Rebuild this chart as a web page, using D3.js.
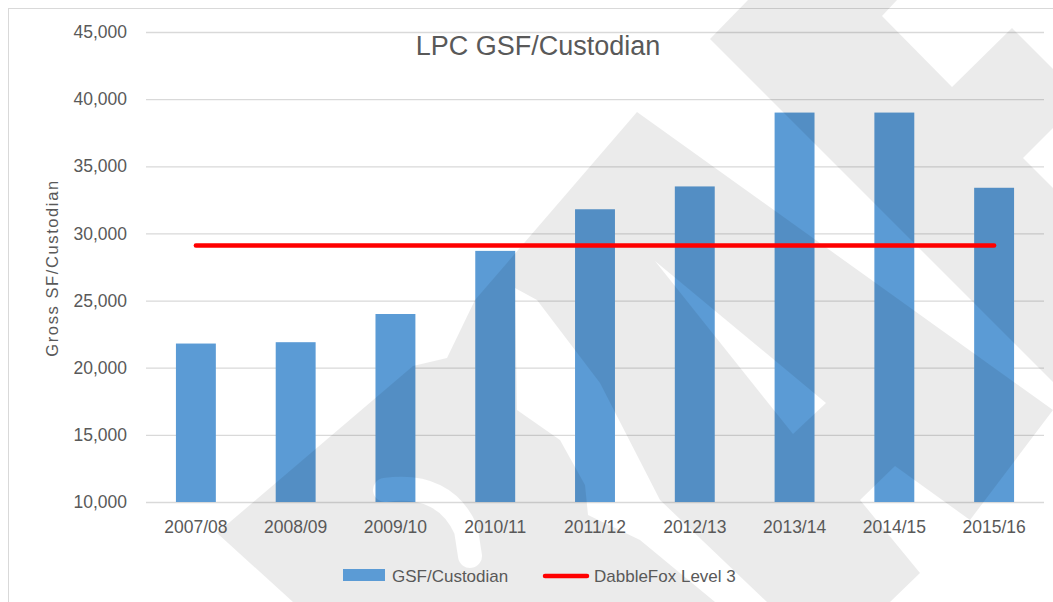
<!DOCTYPE html>
<html>
<head>
<meta charset="utf-8">
<script src="https://cdn.jsdelivr.net/npm/d3@7"></script>
<style>
  html, body { margin: 0; padding: 0; background: #fff; }
  svg { display: block; font-family: "Liberation Sans", Arial, sans-serif; }
</style>
</head>
<body>
<svg id="chart" width="1053" height="602"></svg>
<script>
// ---- data ----
const categories = ["2007/08","2008/09","2009/10","2010/11","2011/12","2012/13","2013/14","2014/15","2015/16"];
const gsfPerCustodian = [21800, 21900, 24000, 28700, 31800, 33500, 39000, 39000, 33400];
const dabbleFoxLevel3 = [29100, 29100, 29100, 29100, 29100, 29100, 29100, 29100, 29100];
const yTicks = [10000, 15000, 20000, 25000, 30000, 35000, 40000, 45000];
const titleText = "LPC GSF/Custodian";
const yAxisTitle = "Gross SF/Custodian";
const seriesNames = ["GSF/Custodian", "DabbleFox Level 3"];

// ---- decorative watermark (background logo) ----
const wmShapes = [
  [[748,0],[897,0],[882,16],[952,87],[1012,28],[1053,69],[1053,128],[1023,158],[1053,188],[1053,382],[710,39]],
  [[637,112],[1053,410],[970,520],[895,466],[860,500],[920,573],[890,602],[293,602],[217,533],[413,366],[447,358],[475,300]]
];
const wmHoles = [
  [[655,261],[826,403],[793,434]],
  [[515,288],[537,300],[600,383],[660,500],[767,602],[715,602],[640,540],[588,515],[585,485],[560,440],[517,410]]
];
const wmCurve = "M385,490 Q445,482 466,530 L470,556";

const svg = d3.select("#chart");
const W = 1053, H = 602;
const plot = {left: 146, right: 1044, top: 32, bottom: 502};

const x = d3.scaleBand().domain(categories).range([plot.left, plot.right]).paddingInner(0.6).paddingOuter(0.3);
const y = d3.scaleLinear().domain([10000, 45000]).range([plot.bottom, plot.top]);

const textColor = "#595959";

// chart border
svg.append("rect").attr("x", 8.5).attr("y", 8.5).attr("width", 1200).attr("height", 800)
  .attr("fill", "#fff").attr("stroke", "#d9d9d9");

// gridlines
const grid = svg.append("g").attr("transform", `translate(${plot.left},0)`)
  .call(d3.axisLeft(y).tickValues(yTicks).tickSize(-(plot.right - plot.left)).tickFormat(""));
grid.select(".domain").remove();
grid.selectAll("line").attr("stroke", "#d9d9d9").attr("stroke-width", 1.3);

// bars
svg.append("g").selectAll("rect").data(gsfPerCustodian).join("rect")
  .attr("x", (d, i) => x(categories[i]))
  .attr("y", d => y(d))
  .attr("width", x.bandwidth())
  .attr("height", d => y(10000) - y(d))
  .attr("fill", "#5b9bd5");

// watermark overlay
const defs = svg.append("defs");
const mask = defs.append("mask").attr("id", "wm").attr("maskUnits", "userSpaceOnUse")
  .attr("x", 0).attr("y", 0).attr("width", W).attr("height", H);
mask.selectAll("polygon.s").data(wmShapes).join("polygon").attr("class", "s")
  .attr("points", d => d.map(p => p.join(",")).join(" ")).attr("fill", "#fff");
mask.selectAll("polygon.h").data(wmHoles).join("polygon").attr("class", "h")
  .attr("points", d => d.map(p => p.join(",")).join(" ")).attr("fill", "#000");
mask.append("path").attr("d", wmCurve).attr("fill", "none").attr("stroke", "#000")
  .attr("stroke-width", 24).attr("stroke-linecap", "round");
svg.append("rect").attr("width", W).attr("height", H).attr("fill", "#000")
  .attr("fill-opacity", 0.08).attr("mask", "url(#wm)");

// red line
const line = d3.line().x((d, i) => x(categories[i]) + x.bandwidth() / 2).y(d => y(d));
svg.append("path").datum(dabbleFoxLevel3).attr("d", line)
  .attr("fill", "none").attr("stroke", "#ff0000").attr("stroke-width", 4.5).attr("stroke-linecap", "round");

// y tick labels
const yAxis = svg.append("g").attr("transform", `translate(${plot.left - 19},0)`)
  .call(d3.axisLeft(y).tickValues(yTicks).tickSize(0).tickPadding(0).tickFormat(d3.format(",")));
yAxis.select(".domain").remove();
yAxis.selectAll("text").attr("fill", textColor).attr("font-size", 17.5)
  .attr("font-family", "Liberation Sans, Arial, sans-serif");

// x labels
const xAxis = svg.append("g").attr("transform", `translate(0,${plot.bottom})`)
  .call(d3.axisBottom(x).tickSize(0).tickPadding(19));
xAxis.select(".domain").remove();
xAxis.selectAll("text").attr("fill", textColor).attr("font-size", 17.5)
  .attr("font-family", "Liberation Sans, Arial, sans-serif");

// title
svg.append("text").attr("x", 538).attr("y", 55).attr("text-anchor", "middle")
  .attr("font-size", 27).attr("fill", textColor).text(titleText);

// y axis title
svg.append("text").attr("transform", "translate(52,268) rotate(-90)")
  .attr("text-anchor", "middle").attr("dominant-baseline", "central")
  .attr("font-size", 16.5).attr("letter-spacing", 1.6).attr("fill", textColor).text(yAxisTitle);

// legend
const lg = svg.append("g");
lg.append("rect").attr("x", 343).attr("y", 569).attr("width", 42).attr("height", 12).attr("fill", "#5b9bd5");
lg.append("text").attr("x", 392).attr("y", 582).attr("font-size", 17).attr("fill", textColor).text(seriesNames[0]);
lg.append("line").attr("x1", 545).attr("x2", 587).attr("y1", 576).attr("y2", 576)
  .attr("stroke", "#ff0000").attr("stroke-width", 4.5).attr("stroke-linecap", "round");
lg.append("text").attr("x", 594).attr("y", 582).attr("font-size", 17).attr("fill", textColor).text(seriesNames[1]);
</script>
</body>
</html>
